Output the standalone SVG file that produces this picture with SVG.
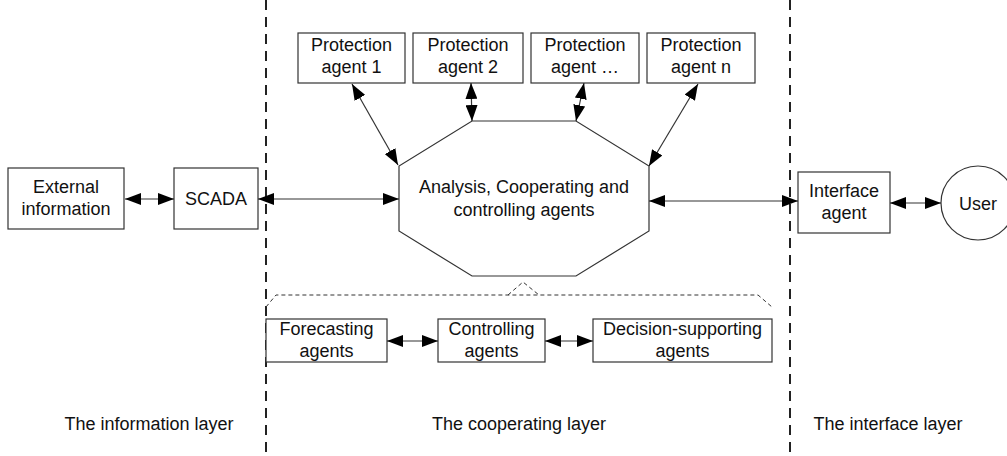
<svg xmlns="http://www.w3.org/2000/svg" width="1007" height="456" viewBox="0 0 1007 456">
<style>
.box{fill:#fff;stroke:#333;stroke-width:1.2}
.t{font-family:"Liberation Sans",Arial,sans-serif;font-size:18px;fill:#111;text-anchor:middle}
.ln{stroke:#333;stroke-width:1.2;fill:none;marker-start:url(#ah);marker-end:url(#ah)}
.sep{stroke:#222;stroke-width:2;stroke-dasharray:10 7;fill:none}
.br{stroke:#333;stroke-width:1;stroke-dasharray:4 3;fill:none}
</style>
<defs>
<marker id="ah" markerUnits="userSpaceOnUse" markerWidth="16" markerHeight="12" refX="16" refY="6" orient="auto-start-reverse">
<path d="M0,0 L16,6 L0,12 z" fill="#000"/>
</marker>
</defs>
<g id="separators">
<line class="sep" x1="266" y1="0" x2="266" y2="456"/>
<line class="sep" x1="790" y1="0" x2="790" y2="456"/>
</g>
<g id="external"><rect class="box" x="8" y="168" width="116" height="61"/><text class="t" x="66" y="193">External</text><text class="t" x="66" y="215">information</text></g>
<g id="scada"><rect class="box" x="174" y="168" width="84" height="61"/><text class="t" x="216" y="205">SCADA</text></g>
<g id="core"><polygon class="box" points="472,121 576,121 649,166 649,231 576,276 472,276 399,231 399,166"/><text class="t" x="524" y="193">Analysis, Cooperating and</text><text class="t" x="524" y="216">controlling agents</text></g>
<g id="pa1"><rect class="box" x="298" y="33" width="107" height="50"/><text class="t" x="351.5" y="51">Protection</text><text class="t" x="351.5" y="73">agent 1</text></g>
<g id="pa2"><rect class="box" x="413" y="33" width="110" height="50"/><text class="t" x="468" y="51">Protection</text><text class="t" x="468" y="73">agent 2</text></g>
<g id="pa3"><rect class="box" x="531" y="33" width="108" height="50"/><text class="t" x="585" y="51">Protection</text><text class="t" x="585" y="73">agent …</text></g>
<g id="pan"><rect class="box" x="647" y="33" width="108" height="50"/><text class="t" x="701" y="51">Protection</text><text class="t" x="701" y="73">agent n</text></g>
<g id="interface"><rect class="box" x="798" y="172" width="92" height="61"/><text class="t" x="844" y="197">Interface</text><text class="t" x="844" y="219">agent</text></g>
<g id="user"><circle class="box" cx="978" cy="203" r="37"/><text class="t" x="978" y="210">User</text></g>
<g id="forecast"><rect class="box" x="266" y="319" width="121" height="43"/><text class="t" x="326.5" y="335">Forecasting</text><text class="t" x="326.5" y="357">agents</text></g>
<g id="controlling"><rect class="box" x="438" y="319" width="107" height="43"/><text class="t" x="491.5" y="335">Controlling</text><text class="t" x="491.5" y="357">agents</text></g>
<g id="decision"><rect class="box" x="593" y="319" width="179" height="43"/><text class="t" x="682.5" y="335">Decision-supporting</text><text class="t" x="682.5" y="357">agents</text></g>
<g id="bracket">
<polyline class="br" points="266,307 276,295 758,295 772,307"/>
<polyline class="br" points="508,295 523,282 539,295"/>
</g>
<g id="connectors">
<line class="ln" x1="125" y1="199" x2="174" y2="199"/>
<line class="ln" x1="258" y1="199" x2="399" y2="199"/>
<line class="ln" x1="649" y1="201" x2="798" y2="201"/>
<line class="ln" x1="890" y1="203" x2="941" y2="203"/>
<line class="ln" x1="398" y1="165" x2="352" y2="84"/>
<line class="ln" x1="472" y1="121" x2="471" y2="83"/>
<line class="ln" x1="576" y1="121" x2="584" y2="83"/>
<line class="ln" x1="649" y1="166" x2="698" y2="84"/>
<line class="ln" x1="387" y1="341" x2="438" y2="341"/>
<line class="ln" x1="545" y1="341" x2="593" y2="341"/>
</g>
<g id="layers">
<text class="t" x="149" y="430">The information layer</text>
<text class="t" x="519" y="430">The cooperating layer</text>
<text class="t" x="888" y="430">The interface layer</text>
</g>
</svg>
